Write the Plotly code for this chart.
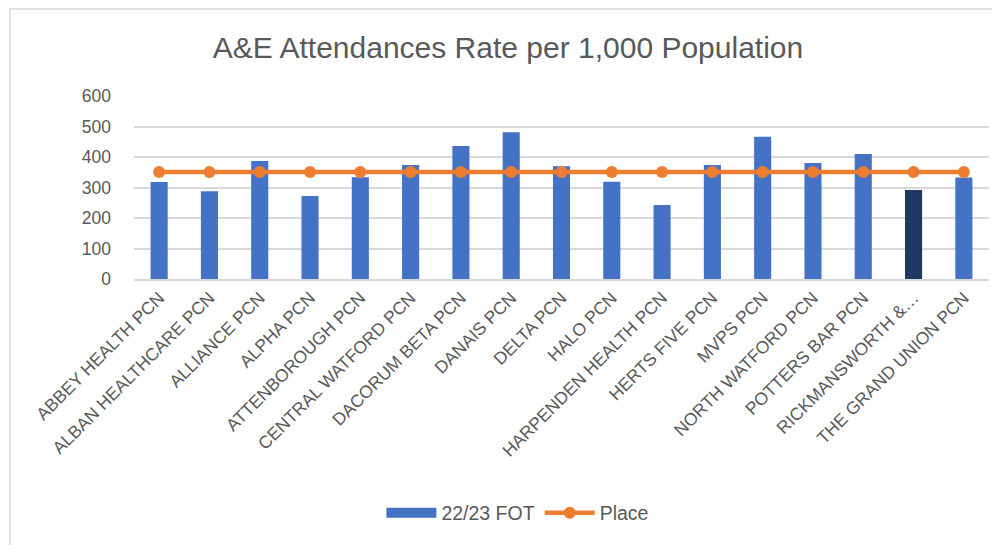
import plotly.graph_objects as go

# data
pcns = ["ABBEY HEALTH PCN", "ALBAN HEALTHCARE PCN", "ALLIANCE PCN", "ALPHA PCN",
        "ATTENBOROUGH PCN", "CENTRAL WATFORD PCN", "DACORUM BETA PCN", "DANAIS PCN",
        "DELTA PCN", "HALO PCN", "HARPENDEN HEALTH PCN", "HERTS FIVE PCN", "MVPS PCN",
        "NORTH WATFORD PCN", "POTTERS BAR PCN", "RICKMANSWORTH &…", "THE GRAND UNION PCN"]
fot_2223 = [318, 288, 387, 272, 334, 374, 436, 481, 370, 319, 243, 374, 466, 380, 410, 292, 333]
place = [351] * len(pcns)

bar_cols = ["#4472C4"] * len(pcns)
bar_cols[15] = "#203864"  # highlighted one

grey = "#595959"
fnt = "Liberation Sans"

fig = go.Figure()
fig.add_trace(go.Bar(name="22/23 FOT", x=pcns, y=fot_2223, showlegend=False,
                     marker=dict(color=bar_cols, line_width=0), width=0.34))
# legend entry only, so the key looks like the wide excel swatch
fig.add_trace(go.Scatter(name="22/23 FOT", x=[None], y=[None], mode="lines",
                         line=dict(color="#4472C4", width=13)))
fig.add_trace(go.Scatter(name="Place", x=pcns, y=place, mode="lines+markers",
                         line=dict(color="#ED7D31", width=4.5),
                         marker=dict(color="#ED7D31", size=12)))

fig.update_layout(
    width=1000, height=545,
    paper_bgcolor="white", plot_bgcolor="white",
    margin=dict(l=126, r=19, t=88, b=274, autoexpand=False),
    title=dict(text="A&E Attendances Rate per 1,000 Population", x=0.5, xanchor="center",
               y=1 - 39 / 545, yanchor="middle", font=dict(family=fnt, size=30, color=grey)),
    font=dict(family=fnt, color=grey),
    showlegend=True,
    legend=dict(orientation="h", x=0.449, xanchor="center", y=-1.279, yanchor="middle",
                font=dict(size=19.5, color=grey), itemwidth=50),
)
fig.update_xaxes(tickangle=-45, tickfont=dict(size=17.5, color=grey), showgrid=False,
                 showline=True, linecolor="#d9d9d9", linewidth=1.5, ticks="",
                 automargin=False, range=[-0.5, len(pcns) - 0.5])
fig.update_yaxes(range=[0, 600], dtick=100, tickfont=dict(size=17.5, color=grey),
                 gridcolor="#d9d9d9", gridwidth=1.5, zeroline=False, ticks="",
                 ticklabelstandoff=22, automargin=False)
fig.add_shape(type="rect", xref="paper", yref="paper", x0=-0.145, x1=1.05, y0=-1.6, y1=1.475,
              line=dict(color="#d9d9d9", width=1.5))

fig.write_html("out.html")
